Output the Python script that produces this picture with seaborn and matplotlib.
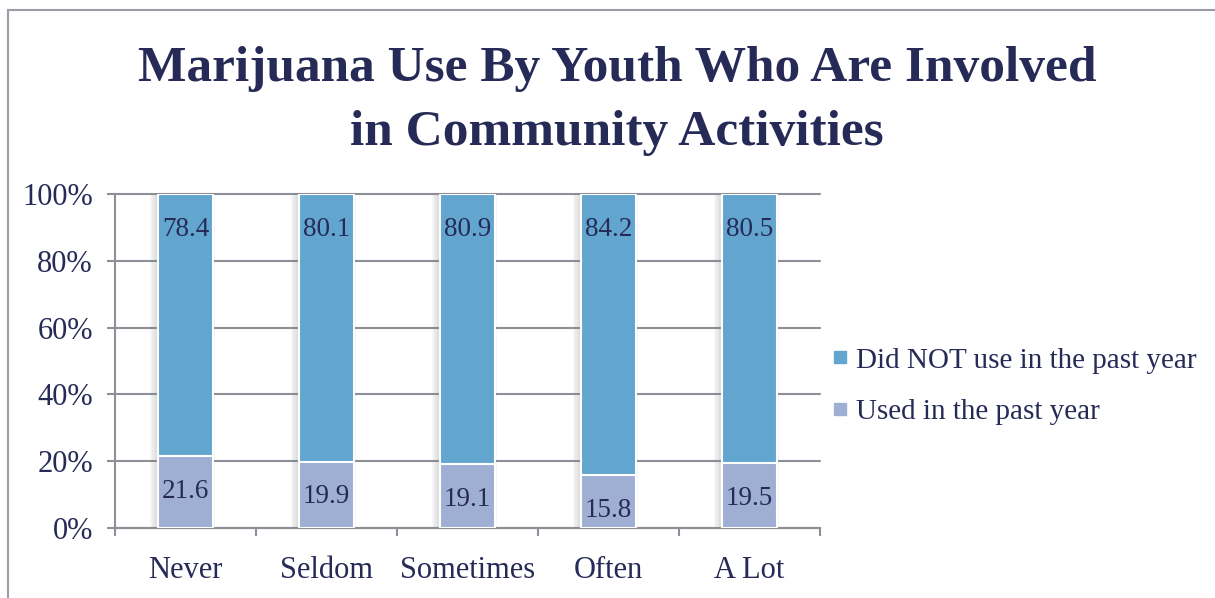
import matplotlib
matplotlib.use("Agg")
import matplotlib.pyplot as plt
import matplotlib.patheffects as pe
from matplotlib.lines import Line2D
from matplotlib.patches import Rectangle
import seaborn as sns
import pandas as pd

# Survey data: share of youth by level of community involvement
categories = ["Never", "Seldom", "Sometimes", "Often", "A Lot"]
did_not_use = [78.4, 80.1, 80.9, 84.2, 80.5]
used = [21.6, 19.9, 19.1, 15.8, 19.5]
series_names = ["Did NOT use in the past year", "Used in the past year"]
y_ticks = [0, 20, 40, 60, 80, 100]
y_tick_labels = ["0%", "20%", "40%", "60%", "80%", "100%"]
title_text = "Marijuana Use By Youth Who Are Involved\nin Community Activities"

BLUE = "#62a6cf"
LAVENDER = "#9eafd3"
NAVY = "#262a56"
GRID = "#8e8e99"
FONT = ["Liberation Serif", "DejaVu Serif"]

df = pd.DataFrame({"category": categories, "not_used": did_not_use, "used": used})
df["top"] = df["used"] + df["not_used"]

sns.set_theme(style="white")
plt.rcParams["font.family"] = FONT

fig = plt.figure(figsize=(12.15, 5.98), dpi=100)
ax = fig.add_axes([115 / 1215, 70 / 598, 705 / 1215, 334 / 598])

bar_w = 0.39
# upper segment drawn as the full stack, lower segment over it
sns.barplot(data=df, x="category", y="top", color=BLUE, saturation=1,
            width=bar_w, edgecolor="white", linewidth=1.5, ax=ax, zorder=3)
n_top = len(ax.patches)
sns.barplot(data=df, x="category", y="used", color=LAVENDER, saturation=1,
            width=bar_w, edgecolor="white", linewidth=1.5, ax=ax, zorder=4)

shadow = [pe.SimplePatchShadow(offset=(-o, 0), shadow_rgbFace="#808080", alpha=0.05)
          for o in (1, 2, 3, 4, 5, 6)]
shadow.append(pe.SimplePatchShadow(offset=(1.2, 0), shadow_rgbFace="#808080", alpha=0.08))
for p in ax.patches[:n_top]:
    p.set_path_effects(shadow + [pe.Normal()])

# value labels just inside the top end of each segment
for i, row in df.iterrows():
    ax.annotate(f"{row['not_used']:.1f}", (i, row["top"]), xytext=(0, -25.5),
                textcoords="offset points", ha="center", va="center",
                fontsize=19.5, color=NAVY, zorder=6)
    ax.annotate(f"{row['used']:.1f}", (i, row["used"]), xytext=(0, -25.5),
                textcoords="offset points", ha="center", va="center",
                fontsize=19.5, color=NAVY, zorder=6)

ax.set_xlim(-0.5, len(categories) - 0.5)
ax.set_ylim(0, 100)
ax.set_yticks(y_ticks)
ax.set_yticklabels(y_tick_labels)
ax.set_xticks(range(len(categories)))
ax.set_xticklabels(categories)
ax.set_xticks([i - 0.5 for i in range(len(categories) + 1)], minor=True)
ax.set_xlabel("")
ax.set_ylabel("")

ax.tick_params(axis="y", which="major", length=6, width=1.5, color=GRID,
               labelsize=22, labelcolor=NAVY, pad=10, left=True)
ax.tick_params(axis="x", which="major", length=0, labelsize=22,
               labelcolor=NAVY, pad=20)
ax.tick_params(axis="x", which="minor", length=6, width=1.5, color=GRID,
               bottom=True)

ax.grid(axis="y", color=GRID, linewidth=1.5, zorder=1)
ax.grid(axis="x", visible=False)
for gl in ax.get_ygridlines():
    gl.set_clip_on(False)
ax.set_axisbelow(True)
for side in ("top", "right"):
    ax.spines[side].set_visible(False)
for side in ("left", "bottom"):
    ax.spines[side].set_color(GRID)
    ax.spines[side].set_linewidth(1.5)

fig.text(617 / 1215, 1 - 101 / 598, title_text, ha="center", va="center",
         fontsize=37, fontweight="bold", color=NAVY, linespacing=1.5)

handles = [Line2D([], [], marker="s", linestyle="none", markersize=8.5,
                  markerfacecolor=c, markeredgecolor=c)
           for c in (BLUE, LAVENDER)]
fig.legend(handles, series_names, loc="center left",
           bbox_to_anchor=(818 / 1215, 1 - 386 / 598), frameon=False,
           fontsize=21, labelcolor=NAVY, handlelength=0.5, handletextpad=0.3,
           labelspacing=0.85, borderpad=0)

# outer chart frame
fig.add_artist(Rectangle((8 / 1215, -0.1), 1.2, 1 - 10 / 598 + 0.1,
                         transform=fig.transFigure, fill=False,
                         edgecolor="#9c9ca6", linewidth=1.5))

fig.savefig("out.png", dpi=100)
